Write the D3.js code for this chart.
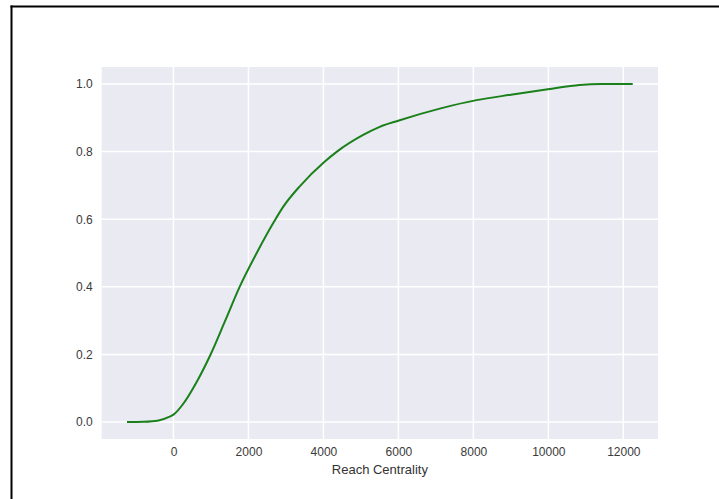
<!DOCTYPE html>
<html>
<head>
<meta charset="utf-8">
<script src="https://cdn.jsdelivr.net/npm/d3@7"></script>
<style>
  body { margin: 0; background: #fff; }
  svg { display: block; }
  .tick text { font-family: "Liberation Sans", Arial, sans-serif; fill: #3a3a3a; }
</style>
</head>
<body>
<script>
// chart size
var w = 719;
var h = 499;

// plot area (pixels)
var plot = { left: 101.7, top: 67, right: 658, bottom: 439 };

// cumulative curve
var reach = [-1240, -800, -400, -100, 0, 266, 600, 990, 1380, 1765, 2220, 2685, 2930, 3375, 4022, 4352, 5060, 5500, 6014, 7104, 8083, 9000, 9987, 10831, 11400, 12250];
var cdf   = [0, 0.001, 0.005, 0.016, 0.022, 0.055, 0.115, 0.2, 0.3, 0.4, 0.5, 0.593, 0.637, 0.698, 0.769, 0.799, 0.849, 0.873, 0.892, 0.927, 0.952, 0.968, 0.984, 0.997, 1.0, 1.0];

var xTicks = [0, 2000, 4000, 6000, 8000, 10000, 12000];
var yTicks = [0, 0.2, 0.4, 0.6, 0.8, 1.0];
var xTitle = "Reach Centrality";

var points = reach.map(function(v, i) { return { x: v, y: cdf[i] }; });

// matplotlib style 5% margins
var xMin = d3.min(reach), xMax = d3.max(reach);
var pad = (xMax - xMin) * 0.05;
var x = d3.scaleLinear().domain([xMin - pad, xMax + pad]).range([plot.left, plot.right]);
var y = d3.scaleLinear().domain([-0.05, 1.05]).range([plot.bottom, plot.top]);

var svg = d3.select("body").append("svg")
            .attr("width", w)
            .attr("height", h);

svg.append("rect").attr("width", w).attr("height", h).attr("fill", "#fff");

// plot background
svg.append("rect")
   .attr("x", plot.left).attr("y", plot.top)
   .attr("width", plot.right - plot.left)
   .attr("height", plot.bottom - plot.top)
   .attr("fill", "#eaeaf2");

// grid lines
svg.append("g").selectAll("line").data(xTicks).enter().append("line")
   .attr("x1", function(d) { return x(d); }).attr("x2", function(d) { return x(d); })
   .attr("y1", plot.top).attr("y2", plot.bottom)
   .attr("stroke", "#fff").attr("stroke-width", 1.5);
svg.append("g").selectAll("line").data(yTicks).enter().append("line")
   .attr("y1", function(d) { return y(d); }).attr("y2", function(d) { return y(d); })
   .attr("x1", plot.left).attr("x2", plot.right)
   .attr("stroke", "#fff").attr("stroke-width", 1.5);

// axes (no lines, just labels)
var xAxisG = svg.append("g")
   .attr("transform", "translate(0," + plot.bottom + ")")
   .call(d3.axisBottom(x).tickValues(xTicks).tickFormat(d3.format("d")).tickSize(0).tickPadding(8));
var yAxisG = svg.append("g")
   .attr("transform", "translate(" + plot.left + ",0)")
   .call(d3.axisLeft(y).tickValues(yTicks).tickFormat(d3.format(".1f")).tickSize(0).tickPadding(9));
svg.selectAll(".domain").remove();
svg.selectAll(".tick text").attr("font-size", 12);

// x label
svg.append("text")
   .attr("x", (plot.left + plot.right) / 2)
   .attr("y", 474)
   .attr("text-anchor", "middle")
   .attr("font-family", "Liberation Sans, Arial, sans-serif")
   .attr("font-size", 13)
   .attr("fill", "#333")
   .text(xTitle);

// the curve
var line = d3.line()
   .x(function(d) { return x(d.x); })
   .y(function(d) { return y(d.y); })
   .curve(d3.curveMonotoneX);

svg.append("path")
   .datum(points)
   .attr("d", line)
   .attr("fill", "none")
   .attr("stroke", "#1a801a")
   .attr("stroke-width", 2);

// black frame on top and left
svg.append("line").attr("x1", 10.5).attr("x2", w).attr("y1", 6.5).attr("y2", 6.5)
   .attr("stroke", "#000").attr("stroke-width", 2);
svg.append("line").attr("x1", 11.5).attr("x2", 11.5).attr("y1", 5.5).attr("y2", h)
   .attr("stroke", "#000").attr("stroke-width", 2);
</script>
</body>
</html>
